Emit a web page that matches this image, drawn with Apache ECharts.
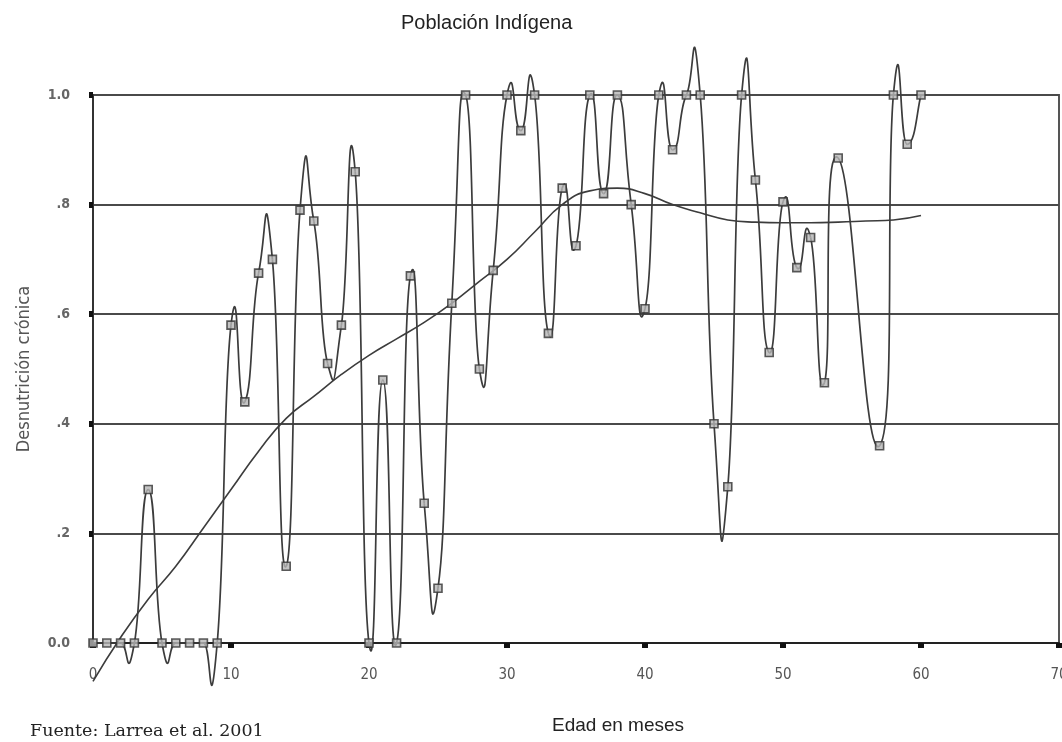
<!DOCTYPE html>
<html>
<head>
<meta charset="utf-8">
<script src="https://cdn.jsdelivr.net/npm/echarts@6/dist/echarts.min.js"></script>
<style>
  html, body { margin: 0; padding: 0; background: #fff; }
  #chart { width: 1062px; height: 742px; }
</style>
</head>
<body>
<div id="chart"></div>
<script>
// Age in months of each observation and share with chronic malnutrition
const ageMonths = [0, 1, 2, 3, 4, 5, 6, 7, 8, 9,
  10, 11, 12, 13, 14, 15, 16, 17, 18, 19,
  20, 21, 22, 23, 24, 25, 26, 27, 28, 29,
  30, 31, 32, 33, 34, 35, 36, 37, 38, 39,
  40, 41, 42, 43, 44, 45, 46, 47, 48, 49,
  50, 51, 52, 53, 54, 57, 58, 59, 60];
const malnutrition = [0, 0, 0, 0, 0.28, 0, 0, 0, 0, 0,
  0.58, 0.44, 0.675, 0.70, 0.14, 0.79, 0.77, 0.51, 0.58, 0.86,
  0, 0.48, 0, 0.67, 0.255, 0.10, 0.62, 1.0, 0.50, 0.68,
  1.0, 0.935, 1.0, 0.565, 0.83, 0.725, 1.0, 0.82, 1.0, 0.80,
  0.61, 1.0, 0.90, 1.0, 1.0, 0.40, 0.285, 1.0, 0.845, 0.53,
  0.805, 0.685, 0.74, 0.475, 0.885, 0.36, 1.0, 0.91, 1.0];

// Smoothed tendency
const trendMonths = [0, 2, 4, 6, 8, 10, 12, 14, 16, 18, 20, 22, 24, 26, 28, 30,
  32, 34, 36, 38, 40, 42, 44, 46, 48, 50, 52, 54, 56, 58, 60];
const trendValues = [-0.07, 0.01, 0.08, 0.14, 0.21, 0.28, 0.35, 0.41, 0.45, 0.49,
  0.525, 0.555, 0.585, 0.62, 0.66, 0.70, 0.75, 0.80, 0.825, 0.83,
  0.82, 0.80, 0.785, 0.772, 0.768, 0.767, 0.767, 0.768, 0.77, 0.772, 0.78];

const yTickLabels = { '0': '0.0', '0.2': '.2', '0.4': '.4', '0.6': '.6', '0.8': '.8', '1': '1.0' };

const TENSION = 0.3;   // length of the Bezier handles relative to neighbour span
const INK = '#3c3c3c';

const chart = echarts.init(document.getElementById('chart'), null, { renderer: 'canvas' });

// One cubic Bezier piece per pair of consecutive observations
function renderSegment(params, api) {
  const i = params.dataIndex;
  const n = ageMonths.length;
  if (i >= n - 1) return null;
  const pt = j => api.coord([ageMonths[j], malnutrition[j]]);
  const p0 = pt(Math.max(i - 1, 0));
  const p1 = pt(i);
  const p2 = pt(i + 1);
  const p3 = pt(Math.min(i + 2, n - 1));
  return {
    type: 'bezierCurve',
    shape: {
      x1: p1[0], y1: p1[1],
      x2: p2[0], y2: p2[1],
      cpx1: p1[0] + (p2[0] - p0[0]) * TENSION,
      cpy1: p1[1] + (p2[1] - p0[1]) * TENSION,
      cpx2: p2[0] - (p3[0] - p1[0]) * TENSION,
      cpy2: p2[1] - (p3[1] - p1[1]) * TENSION
    },
    style: { stroke: INK, lineWidth: 1.7, fill: 'none' }
  };
}

const points = ageMonths.map((m, i) => [m, malnutrition[i]]);
const trend = trendMonths.map((m, i) => [m, trendValues[i]]);

chart.setOption({
  animation: false,
  backgroundColor: '#ffffff',
  grid: {
    left: 93, right: 3, top: 95, bottom: 99,
    outerBoundsMode: 'none',
    containLabel: false,
    show: true, borderColor: '#555', borderWidth: 2, backgroundColor: 'transparent'
  },
  xAxis: {
    type: 'value', min: 0, max: 70, interval: 10,
    axisLine: { show: true, onZero: false, lineStyle: { color: '#222', width: 2 } },
    axisTick: { show: true, length: 5, lineStyle: { color: '#111', width: 6 } },
    axisLabel: { color: '#555', fontSize: 15, margin: 25, fontFamily: 'DejaVu Sans Condensed' },
    splitLine: { show: false }
  },
  yAxis: {
    type: 'value', min: 0, max: 1, interval: 0.2,
    axisLine: { show: true, lineStyle: { color: '#333', width: 2 } },
    axisTick: { show: true, length: 4, lineStyle: { color: '#111', width: 6 } },
    axisLabel: {
      color: '#666', fontSize: 14, margin: 23, fontWeight: 'bold',
      fontFamily: 'DejaVu Sans Condensed',
      formatter: v => yTickLabels[String(+v.toFixed(1))] || ''
    },
    splitLine: { show: true, lineStyle: { color: '#4a4a4a', width: 2 } },
    name: 'Desnutrición crónica',
    nameLocation: 'middle',
    nameGap: 60,
    nameRotate: 90,
    nameTextStyle: { color: '#555', fontSize: 18, fontFamily: 'DejaVu Sans Condensed' }
  },
  series: [
    {
      type: 'line',
      data: trend,
      smooth: true,
      symbol: 'none',
      clip: false,
      silent: true,
      lineStyle: { color: INK, width: 1.6 },
      z: 3
    },
    {
      type: 'custom',
      data: points,
      renderItem: renderSegment,
      clip: false,
      silent: true,
      z: 4
    },
    {
      type: 'scatter',
      data: points,
      symbol: 'rect',
      symbolSize: 8,
      silent: true,
      itemStyle: { color: '#b5b5b5', borderColor: '#333', borderWidth: 1.6 },
      z: 5
    }
  ],
  graphic: [
    {
      type: 'text', left: 401, top: 13,
      style: { text: 'Población Indígena', fill: '#222', font: '20px "Liberation Sans", Arial, sans-serif' }
    },
    {
      type: 'text', left: 552, top: 716,
      style: { text: 'Edad en meses', fill: '#222', font: '19px "Liberation Sans", Arial, sans-serif' }
    },
    {
      type: 'text', left: 30, top: 722,
      style: { text: 'Fuente: Larrea et al. 2001', fill: '#222', font: '17.5px "DejaVu Serif", serif' }
    }
  ]
});
</script>
</body>
</html>
